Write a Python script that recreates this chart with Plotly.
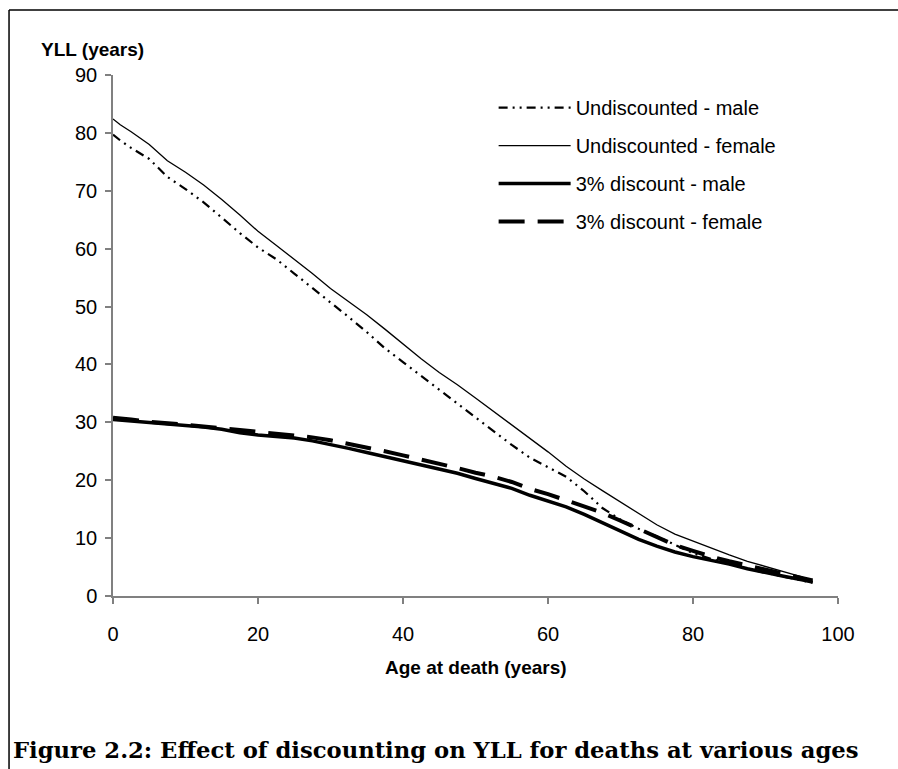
import plotly.graph_objects as go

# age at death (years)
ages = [0, 1, 2.5, 5, 7.5, 10, 12.5, 15, 17.5, 20, 22.5, 25, 27.5, 30, 32.5, 35,
        37.5, 40, 42.5, 45, 47.5, 50, 52.5, 55, 57.5, 60, 62.5, 65, 67.5, 70,
        72.5, 75, 77.5, 80, 82.5, 85, 87.5, 90, 92.5, 95, 96.5]

# YLL (years)
undisc_male = [79.7, 78.7, 77.4, 75.5, 72.4, 70.3, 68.0, 65.3, 62.7, 60.2, 58.2, 55.7,
               53.2, 50.8, 48.2, 45.6, 42.8, 40.4, 38.0, 35.6, 33.3, 30.9, 28.5, 26.1,
               23.9, 22.2, 20.6, 18.1, 15.2, 13.2, 11.6, 10.3, 8.8, 7.4, 6.4, 5.5, 4.7,
               4.0, 3.3, 2.7, 2.3]
undisc_female = [82.4, 81.4, 80.2, 78.0, 75.2, 73.2, 71.0, 68.5, 65.8, 63.0, 60.6, 58.2,
                 55.7, 53.1, 50.8, 48.6, 46.1, 43.5, 41.0, 38.6, 36.5, 34.2, 31.9, 29.6,
                 27.2, 24.9, 22.4, 20.2, 18.2, 16.2, 14.2, 12.3, 10.7, 9.5, 8.2, 7.1, 6.0,
                 5.1, 4.2, 3.3, 2.5]
disc_male = [30.5, 30.4, 30.3, 30.0, 29.8, 29.5, 29.2, 28.8, 28.2, 27.8, 27.5, 27.3,
             26.8, 26.2, 25.5, 24.8, 24.1, 23.4, 22.7, 22.0, 21.2, 20.3, 19.5, 18.6,
             17.4, 16.4, 15.4, 14.1, 12.7, 11.3, 9.8, 8.6, 7.6, 6.8, 6.2, 5.5, 4.7,
             4.0, 3.4, 2.8, 2.4]
disc_female = [30.8, 30.7, 30.5, 30.1, 29.9, 29.6, 29.3, 29.0, 28.7, 28.4, 28.1, 27.8,
               27.4, 26.9, 26.3, 25.7, 25.0, 24.3, 23.6, 22.8, 22.1, 21.3, 20.6, 19.7,
               18.5, 17.6, 16.5, 15.5, 14.4, 13.0, 11.6, 10.2, 8.8, 7.8, 6.8, 6.0, 5.3,
               4.6, 3.9, 3.1, 2.7]

x_ticks = [0, 20, 40, 60, 80, 100]
y_ticks = [0, 10, 20, 30, 40, 50, 60, 70, 80, 90]

SANS = "Liberation Sans, Arial, sans-serif"

fig = go.Figure()

series = [
    ("Undiscounted - male", undisc_male, dict(color="black", width=2.2, dash="9px,5px,2px,5px,2px,5px")),
    ("Undiscounted - female", undisc_female, dict(color="black", width=1.3)),
    ("3% discount - male", disc_male, dict(color="black", width=3.5)),
    ("3% discount - female", disc_female, dict(color="black", width=4, dash="26px,13px")),
]
for i, (name, vals, line) in enumerate(series):
    fig.add_trace(go.Scatter(x=ages, y=vals, mode="lines", name=name,
                             line=line, legendgroup=f"g{i}"))

fig.update_layout(
    width=898,
    height=769,
    margin=dict(l=113, r=60, t=75, b=173),
    paper_bgcolor="white",
    plot_bgcolor="white",
    font=dict(family=SANS, size=20, color="black"),
    showlegend=True,
    legend=dict(
        x=0.525, y=0.975, xanchor="left", yanchor="top",
        bgcolor="rgba(0,0,0,0)",
        font=dict(family=SANS, size=20),
        itemwidth=72,
        tracegroupgap=9,
    ),
)

fig.update_xaxes(
    range=[0, 100], tickvals=x_ticks, showgrid=False, zeroline=False,
    showline=True, linecolor="#808080", linewidth=1.5,
    ticks="outside", ticklen=6, tickcolor="#808080", tickwidth=1.5,
    ticklabelstandoff=13, tickfont=dict(size=20),
)
fig.update_yaxes(
    range=[0, 90], tickvals=y_ticks, showgrid=False, zeroline=False,
    showline=True, linecolor="#808080", linewidth=1.5,
    ticks="outside", ticklen=6, tickcolor="#808080", tickwidth=1.5,
    ticklabelstandoff=4, tickfont=dict(size=20),
)

# axis titles
fig.add_annotation(text="<b>YLL (years)</b>", xref="paper", yref="paper",
                   x=-0.102, y=1.048, xanchor="left", yanchor="middle",
                   showarrow=False, font=dict(family=SANS, size=19))
fig.add_annotation(text="<b>Age at death (years)</b>", xref="paper", yref="paper",
                   x=0.5, y=-0.138, xanchor="center", yanchor="middle",
                   showarrow=False, font=dict(family=SANS, size=19))

# caption
fig.add_annotation(text="<b>Figure 2.2: Effect of discounting on YLL for deaths at various ages</b>",
                   xref="paper", yref="paper", x=-0.141, y=-0.2956,
                   xanchor="left", yanchor="middle", showarrow=False,
                   font=dict(family="DejaVu Serif, serif", size=22.7))

# outer frame: only the left and top edges are inside the page
frame = dict(color="black", width=1.5)
fig.add_shape(type="line", xref="paper", yref="paper",
              x0=-0.1434, x1=-0.1434, y0=-0.6, y1=1.1248, line=frame, layer="below")
fig.add_shape(type="line", xref="paper", yref="paper",
              x0=-0.1434, x1=1.5, y0=1.1248, y1=1.1248, line=frame, layer="below")

# drop the default page margin so the figure fills the window without scrollbars
fig.write_html("out.html", config={"displayModeBar": False},
               post_script="document.body.style.margin='0';document.body.style.overflow='hidden';")
